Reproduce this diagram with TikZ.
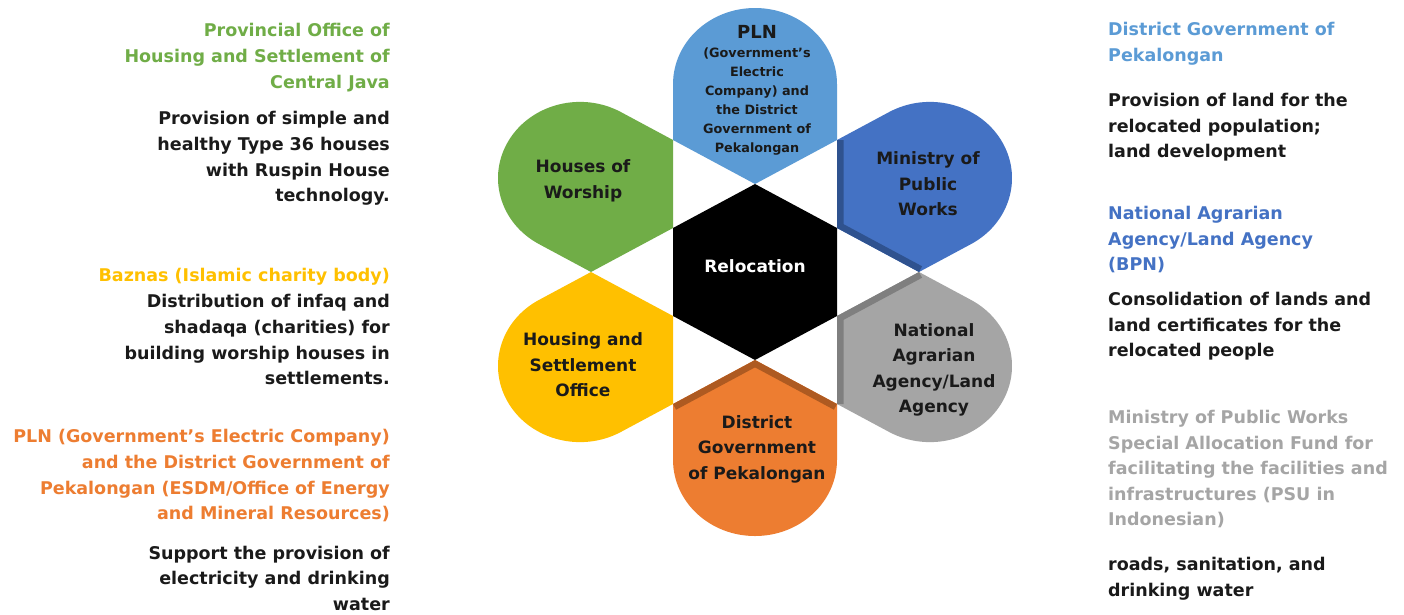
\documentclass[tikz,border=0pt]{standalone}
\usepackage{fontspec}
\setmainfont{DejaVu Sans}

\definecolor{cgreen}{HTML}{70AD47}
\definecolor{cgold}{HTML}{FFC000}
\definecolor{corange}{HTML}{ED7D31}
\definecolor{corangedk}{HTML}{AE5A21}
\definecolor{clblue}{HTML}{5B9BD5}
\definecolor{cdblue}{HTML}{4472C4}
\definecolor{cdbluedk}{HTML}{2F528F}
\definecolor{cgray}{HTML}{A5A5A5}
\definecolor{cgraydk}{HTML}{7F7F7F}
\definecolor{ctext}{HTML}{1A1A1A}

% one petal in its own frame: tip on the hexagon vertex, axis pointing up
\newcommand{\petalshape}{(0,88) -- (76.2,132) -- (76.2,187.8)
  arc[start angle=0,end angle=180,radius=76.2] -- (-76.2,132) -- cycle}
\newcommand{\drawpetal}[2]{%
  \begin{scope}[rotate=#1]
    \fill[#2] \petalshape;
  \end{scope}}
% petal with a darker rim along the two edges that meet at its tip
\newcommand{\drawrimpetal}[3]{%
  \begin{scope}[rotate=#1]
    \fill[#2] \petalshape;
    \begin{scope}
      \clip \petalshape;
      \draw[#3, line width=13pt, line join=miter] (76.2,132) -- (0,88) -- (-76.2,132);
    \end{scope}
  \end{scope}}

\tikzset{
  petaltext/.style={font=\bfseries\fontsize{17}{25.5}\selectfont, text=ctext,
    align=center, inner sep=0pt},
  lefttext/.style={font=\bfseries\fontsize{17.5}{25.8}\selectfont, align=right,
    anchor=north east, inner sep=0pt},
  righttext/.style={font=\bfseries\fontsize{17.5}{25.6}\selectfont, align=left,
    anchor=north west, inner sep=0pt},
}

\begin{document}
\begin{tikzpicture}[x=1pt,y=-1pt]
\fill[white] (0,0) rectangle (1404,614);
\useasboundingbox (0,0) rectangle (1404,614);

% radial hexagon diagram
\begin{scope}[shift={(755,272)}, xscale=1.076, yscale=-1]
  \drawpetal{0}{clblue}
  \drawrimpetal{60}{cdblue}{cdbluedk}
  \drawrimpetal{120}{cgray}{cgraydk}
  \drawrimpetal{180}{corange}{corangedk}
  \drawpetal{-120}{cgold}
  \drawpetal{-60}{cgreen}
  \fill[black] (90:88) -- (30:88) -- (-30:88) -- (-90:88) -- (-150:88) -- (150:88) -- cycle;
\end{scope}

\node[petaltext, text=white] (reloc) at (755,266) {Relocation};
\node[petaltext, font=\bfseries\fontsize{12.8}{19}\selectfont] (pln) at (757,90)
  {{\fontsize{18}{22}\selectfont PLN}\\(Government’s\\Electric\\Company) and\\the District\\Government of\\Pekalongan};
\node[petaltext] (mpw) at (928,184) {Ministry of\\Public\\Works};
\node[petaltext] (bpn) at (934,370) {National\\Agrarian\\Agency/Land\\Agency};
\node[petaltext] (dgp) at (757,449) {District\\Government\\of Pekalongan};
\node[petaltext] (hso) at (583,365) {Housing and\\Settlement\\Office};
\node[petaltext] (how) at (583,181) {Houses of\\Worship};

% left column
\node[lefttext, text=cgreen] (l1) at (390,23) {Provincial Office of\\Housing and Settlement of\\Central Java};
\node[lefttext, text=ctext] (l2) at (390,111) {Provision of simple and\\healthy Type 36 houses\\with Ruspin House\\technology.};
\node[lefttext, text=cgold] (l3) at (390,268) {Baznas (Islamic charity body)};
\node[lefttext, text=ctext] (l4) at (390,294) {Distribution of infaq and\\shadaqa (charities) for\\building worship houses in\\settlements.};
\node[lefttext, text=corange] (l5) at (390,429) {PLN (Government’s Electric Company)\\and the District Government of\\Pekalongan (ESDM/Office of Energy\\and Mineral Resources)};
\node[lefttext, text=ctext, font=\bfseries\fontsize{17.5}{25.3}\selectfont] (l6) at (390,546) {Support the provision of\\electricity and drinking\\water};

% right column
\node[righttext, text=clblue] (r1) at (1108,22) {District Government of\\Pekalongan};
\node[righttext, text=ctext] (r2) at (1108,93) {Provision of land for the\\relocated population;\\land development};
\node[righttext, text=cdblue] (r3) at (1108,206) {National Agrarian\\Agency/Land Agency\\(BPN)};
\node[righttext, text=ctext] (r4) at (1108,292) {Consolidation of lands and\\land certificates for the\\relocated people};
\node[righttext, text=cgray] (r5) at (1108,410) {Ministry of Public Works\\Special Allocation Fund for\\facilitating the facilities and\\infrastructures (PSU in\\Indonesian)};
\node[righttext, text=ctext] (r6) at (1108,557) {roads, sanitation, and\\drinking water};
\end{tikzpicture}
\end{document}
